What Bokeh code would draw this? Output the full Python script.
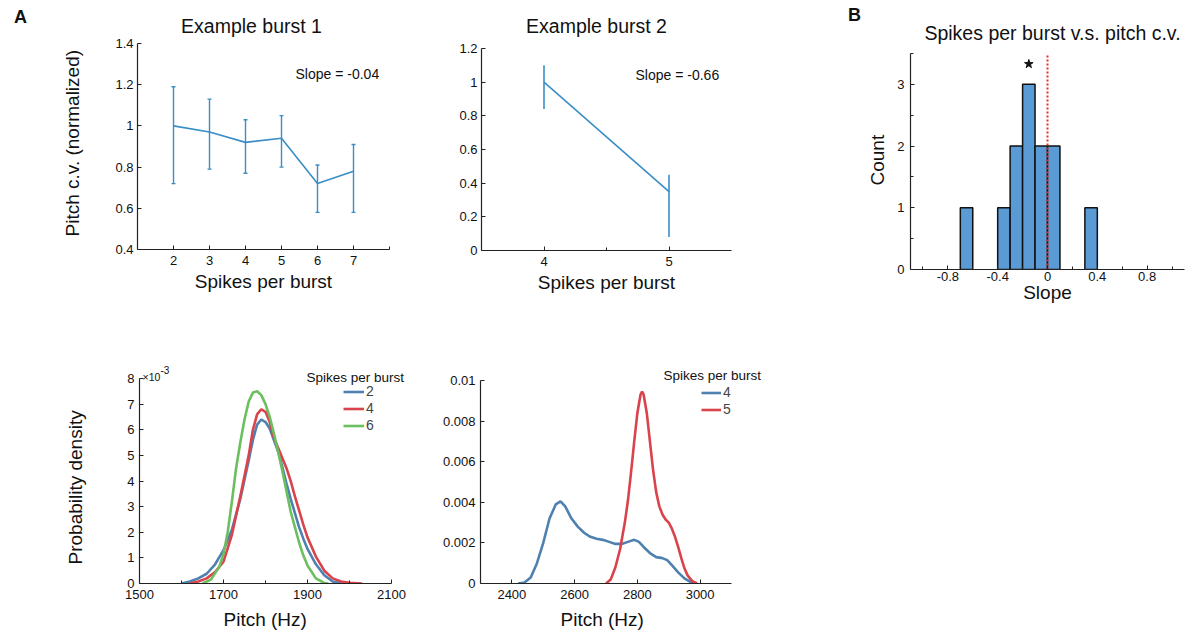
from bokeh.plotting import figure
from bokeh.layouts import row, column
from bokeh.models import (Range1d, FixedTicker, Label, Legend, LegendItem, Whisker,
                          ColumnDataSource, TeeHead, Title)
from bokeh.embed import file_html
from bokeh.resources import INLINE

FONT = "Liberation Sans"

# ---------------- data ----------------
# Panel A, example burst 1
b1_spikes = [2, 3, 4, 5, 6, 7]
b1_mean = [1.0, 0.97, 0.92, 0.94, 0.72, 0.78]
b1_upper = [1.19, 1.13, 1.03, 1.05, 0.81, 0.91]
b1_lower = [0.72, 0.79, 0.77, 0.80, 0.58, 0.58]
b1_slope = "Slope = -0.04"

# Panel A, example burst 2
b2_spikes = [4, 5]
b2_mean = [1.0, 0.35]
b2_upper = [1.10, 0.45]
b2_lower = [0.84, 0.08]
b2_slope = "Slope = -0.66"

# Panel B, histogram of slopes
hist_left = [-0.7, -0.4, -0.3, -0.2, -0.1, 0.0, 0.3]
hist_count = [1, 1, 2, 3, 2, 2, 1]
bin_width = 0.1
zero_slope = 0.0
star_x, star_y = -0.15, 3.33

# Bottom-left densities (x1e-3)
d1_pitch_2 = [1600, 1620, 1640, 1660, 1680, 1700, 1720, 1740, 1760, 1770, 1780, 1790, 1800,
              1810, 1820, 1830, 1840, 1850, 1860, 1870, 1880, 1890, 1900, 1920, 1940, 1960, 1980]
d1_dens_2 = [0.0, 0.08, 0.2, 0.38, 0.75, 1.3, 2.1, 3.3, 4.8, 5.6, 6.2, 6.4, 6.3,
             6.05, 5.6, 5.15, 4.55, 3.9, 3.3, 2.75, 2.2, 1.75, 1.35, 0.75, 0.32, 0.08, 0.0]
d1_pitch_4 = [1620, 1640, 1660, 1680, 1700, 1720, 1740, 1750, 1760, 1770, 1780, 1790, 1800, 1810,
              1820, 1830, 1840, 1850, 1860, 1870, 1880, 1890, 1900, 1920, 1940, 1960, 1980, 2000, 2030]
d1_dens_4 = [0.0, 0.08, 0.2, 0.45, 0.85, 1.9, 3.4, 4.2, 5.0, 6.0, 6.6, 6.8, 6.7, 6.3,
             5.7, 5.3, 4.9, 4.5, 4.0, 3.4, 2.85, 2.3, 1.8, 1.05, 0.5, 0.2, 0.08, 0.03, 0.0]
d1_pitch_6 = [1650, 1670, 1690, 1700, 1710, 1720, 1730, 1740, 1750, 1760, 1770, 1780, 1790, 1800,
              1810, 1820, 1830, 1840, 1850, 1860, 1870, 1880, 1890, 1900, 1920, 1940, 1950]
d1_dens_6 = [0.0, 0.15, 0.65, 1.15, 2.0, 3.2, 4.5, 5.5, 6.4, 7.1, 7.45, 7.5, 7.35, 7.0,
             6.5, 5.85, 5.15, 4.4, 3.6, 2.8, 2.2, 1.6, 1.1, 0.7, 0.2, 0.02, 0.0]

# Bottom-middle densities
d2_pitch_4 = [2420, 2440, 2460, 2480, 2500, 2520, 2540, 2555, 2570, 2590, 2610, 2630, 2650, 2670,
              2690, 2710, 2730, 2750, 2770, 2790, 2805, 2820, 2840, 2860, 2880, 2895, 2910, 2930,
              2950, 2970, 2990]
d2_dens_4 = [0.0, 0.00005, 0.0003, 0.001, 0.002, 0.0032, 0.0039, 0.00405, 0.0038, 0.0032, 0.0028,
             0.0025, 0.0023, 0.0022, 0.00215, 0.00205, 0.00195, 0.00195, 0.00205, 0.00215, 0.00205,
             0.0018, 0.0015, 0.0013, 0.00125, 0.00115, 0.0009, 0.00055, 0.00025, 0.00007, 0.0]
d2_pitch_5 = [2700, 2715, 2730, 2745, 2760, 2770, 2780, 2790, 2800, 2810, 2815, 2820, 2830, 2840,
              2850, 2860, 2870, 2880, 2890, 2900, 2910, 2920, 2930, 2940, 2950, 2960, 2975, 2990]
d2_dens_5 = [0.0, 0.0002, 0.0008, 0.0017, 0.003, 0.0041, 0.0055, 0.007, 0.0084, 0.0093, 0.00945,
             0.0093, 0.0084, 0.007, 0.0056, 0.0045, 0.0038, 0.0034, 0.00315, 0.003, 0.0027, 0.0023,
             0.0018, 0.00125, 0.00075, 0.0004, 0.00012, 0.0]

# axis extents and tick labels
b1_xlim, b1_ylim = (1, 8), (0.4, 1.4)
b1_xticks = [2, 3, 4, 5, 6, 7]
b1_yticks = [0.4, 0.6, 0.8, 1.0, 1.2, 1.4]
b1_ylabels = ["0.4", "0.6", "0.8", "1", "1.2", "1.4"]
b2_xlim, b2_ylim = (3.5, 5.5), (0, 1.2)
b2_xticks = [4, 5]
b2_yticks = [0, 0.2, 0.4, 0.6, 0.8, 1.0, 1.2]
b2_ylabels = ["0", "0.2", "0.4", "0.6", "0.8", "1", "1.2"]
h_xlim, h_ylim = (-1.1, 1.1), (0, 3.5)
h_xticks = [-0.8, -0.4, 0, 0.4, 0.8]
h_xlabels = ["-0.8", "-0.4", "0", "0.4", "0.8"]
h_yticks = [0, 1, 2, 3]
d1_xlim, d1_ylim = (1500, 2100), (0, 8)
d1_xticks = [1500, 1700, 1900, 2100]
d1_yticks = [0, 1, 2, 3, 4, 5, 6, 7, 8]
d2_xlim, d2_ylim = (2300, 3100), (0, 0.01)
d2_xticks = [2400, 2600, 2800, 3000]
d2_yticks = [0, 0.002, 0.004, 0.006, 0.008, 0.01]
d2_ylabels = ["0", "0.002", "0.004", "0.006", "0.008", "0.01"]

LINE_BLUE = "#3a8ec6"
BAR_BLUE = "#5b9bd5"
C_BLUE = "#4f81b0"
C_RED = "#d9434c"
C_GREEN = "#6cbf5e"
AX = "#222222"
TXT = "#111111"
LABEL_SIZE = "19px"
TICK_SIZE = "13px"


def lin_range(v0, p0, v1, p1, lo, hi):
    k = (v1 - v0) / (p1 - p0)
    return (v0 + (lo - p0) * k, v0 + (hi - p0) * k)


class Spec:
    """Pixel geometry of one figure on the page."""
    def __init__(self, ox, oy, left, fw, right, top, fh, bottom, xanch, yanch):
        self.ox, self.oy = ox, oy
        self.left, self.fw, self.right = left, fw, right
        self.top, self.fh, self.bottom = top, fh, bottom
        fl, ft = ox + left, oy + top
        self.xr = lin_range(*xanch, fl, fl + fw)
        self.yr = lin_range(*yanch, ft + fh, ft)

    def dx(self, px):
        fl = self.ox + self.left
        return self.xr[0] + (px - fl) / self.fw * (self.xr[1] - self.xr[0])

    def dy(self, py):
        ft = self.oy + self.top
        return self.yr[1] - (py - ft) / self.fh * (self.yr[1] - self.yr[0])


def make_fig(s, axes=True):
    kw = {} if axes else dict(x_axis_type=None, y_axis_type=None)
    p = figure(x_range=Range1d(*s.xr), y_range=Range1d(*s.yr),
               frame_width=s.fw, frame_height=s.fh,
               min_border_left=s.left, min_border_right=s.right,
               min_border_top=s.top, min_border_bottom=s.bottom,
               output_backend="svg", toolbar_location=None, tools="", **kw)
    p.outline_line_color = None
    p.grid.visible = False
    p.background_fill_color = "white"
    p.border_fill_color = "white"
    return p


def style_axis(ax, bounds, ticks, labels=None, minor=None, label=None, lstand=6, astand=6):
    ax.bounds = bounds
    ax.ticker = FixedTicker(ticks=ticks, minor_ticks=minor or [])
    if labels is None:
        labels = [str(t) for t in ticks]
    ax.major_label_overrides = {t: l for t, l in zip(ticks, labels)}
    ax.major_tick_in = 4
    ax.major_tick_out = 0
    ax.minor_tick_in = 3
    ax.minor_tick_out = 0
    ax.axis_line_color = AX
    ax.axis_line_width = 1.2
    ax.major_tick_line_color = AX
    ax.minor_tick_line_color = AX
    ax.major_label_text_font = FONT
    ax.major_label_text_font_size = TICK_SIZE
    ax.major_label_text_color = TXT
    ax.major_label_standoff = lstand
    if label:
        ax.axis_label = label
        ax.axis_label_text_font = FONT
        ax.axis_label_text_font_size = LABEL_SIZE
        ax.axis_label_text_font_style = "normal"
        ax.axis_label_text_color = TXT
        ax.axis_label_standoff = astand


def add_text(p, s, px, py, text, size="12px", bold=False, align="left"):
    p.add_layout(Label(x=s.dx(px), y=s.dy(py), text=text, text_font=FONT,
                       text_font_size=size, text_font_style="bold" if bold else "normal",
                       text_align=align, text_baseline="middle", text_color=TXT))


def below_label(p, s, text, left_px, standoff):
    # axis title placed under the x axis, starting at page pixel left_px
    p.add_layout(Title(text=text, align="left", offset=left_px - (s.ox + s.left),
                       vertical_align="bottom", standoff=standoff, text_font=FONT,
                       text_font_size=LABEL_SIZE, text_font_style="normal",
                       text_color=TXT), "below")


def left_label(p, s, text, bottom_px, standoff):
    # rotated axis title left of the y axis, its text starting at page pixel bottom_px
    p.add_layout(Title(text=text, align="left", offset=(s.oy + s.top + s.fh) - bottom_px,
                       vertical_align="top", standoff=standoff, text_font=FONT,
                       text_font_size=LABEL_SIZE, text_font_style="normal",
                       text_color=TXT), "left")


# ---------------- top row ----------------
sA = Spec(0, 0, 0, 28, 0, 0, 318, 0, (0, 0, 1, 28), (0, 318, 1, 0))
pA = make_fig(sA, axes=False)
add_text(pA, sA, 20, 16, "A", size="18px", bold=True, align="center")

s1 = Spec(28, 0, 109, 252, 31, 0, 249, 69,
          (b1_xlim[0], 137, b1_xlim[1], 389), (b1_ylim[0], 249, b1_ylim[1], 43))
p1 = make_fig(s1)
src1 = ColumnDataSource(dict(x=b1_spikes, m=b1_mean, u=b1_upper, l=b1_lower))
p1.line("x", "m", source=src1, line_color=LINE_BLUE, line_width=1.6)
p1.add_layout(Whisker(source=src1, base="x", upper="u", lower="l", dimension="height",
                      line_color=LINE_BLUE, line_width=1.4,
                      upper_head=TeeHead(size=4, line_color=LINE_BLUE, line_width=1.4),
                      lower_head=TeeHead(size=4, line_color=LINE_BLUE, line_width=1.4)))
style_axis(p1.xaxis[0], b1_xlim, b1_xticks, minor=[b1_xlim[1]], label="Spikes per burst",
           lstand=6, astand=3)
style_axis(p1.yaxis[0], b1_ylim, b1_yticks, b1_ylabels, lstand=4)
left_label(p1, s1, "Pitch c.v. (normalized)", 236, 55)
add_text(p1, s1, 251, 25, "Example burst 1", size="19.5px", align="center")
add_text(p1, s1, 295, 73, b1_slope, size="14px")

s2 = Spec(420, 0, 61, 250, 109, 0, 250, 68,
          (b2_xlim[0], 481, b2_xlim[1], 731), (b2_ylim[0], 250, b2_ylim[1], 48))
p2 = make_fig(s2)
src2 = ColumnDataSource(dict(x=b2_spikes, m=b2_mean, u=b2_upper, l=b2_lower))
p2.line("x", "m", source=src2, line_color=LINE_BLUE, line_width=1.6)
p2.add_layout(Whisker(source=src2, base="x", upper="u", lower="l", dimension="height",
                      line_color=LINE_BLUE, line_width=1.6, upper_head=None, lower_head=None))
style_axis(p2.xaxis[0], b2_xlim, b2_xticks, minor=[4.5], label="Spikes per burst",
           lstand=6, astand=3)
style_axis(p2.yaxis[0], b2_ylim, b2_yticks, b2_ylabels, lstand=4)
add_text(p2, s2, 596, 25, "Example burst 2", size="19.5px", align="center")
add_text(p2, s2, 635, 74, b2_slope, size="14px")

sB = Spec(840, 0, 0, 21, 0, 0, 318, 0, (0, 840, 1, 861), (0, 318, 1, 0))
pB = make_fig(sB, axes=False)
add_text(pB, sB, 854, 14, "B", size="18px", bold=True, align="center")

s3 = Spec(861, 0, 48, 274, 5, 0, 269, 49,
          (h_xlim[0], 909, h_xlim[1], 1183), (h_ylim[0], 269, h_ylim[1], 53))
p3 = make_fig(s3)
hist_right = [v + bin_width for v in hist_left]
p3.quad(left=hist_left, right=hist_right, top=hist_count, bottom=0,
        fill_color=BAR_BLUE, line_color="#111111", line_width=1.5)
p3.segment(x0=[zero_slope], y0=[h_ylim[0]], x1=[zero_slope], y1=[h_ylim[1]],
           line_color="#e0302a", line_width=2, line_dash="2 2")
p3.scatter([star_x], [star_y], marker="star", size=9, fill_color="#111111", line_color="#111111")
style_axis(p3.xaxis[0], h_xlim, h_xticks, h_xlabels, minor=[-1.0, -0.6, -0.2, 0.2, 0.6, 1.0],
           label="Slope", lstand=2, astand=-2)
style_axis(p3.yaxis[0], h_ylim, h_yticks, minor=[0.5, 1.5, 2.5, 3.5], lstand=6)
left_label(p3, s3, "Count", 185, 10)
add_text(p3, s3, 1051, 32, "Spikes per burst v.s. pitch c.v.", size="19.5px", align="center")

# ---------------- bottom row ----------------
sA2 = Spec(0, 318, 0, 28, 0, 0, 318, 0, (0, 0, 1, 28), (0, 636, 1, 318))
pA2 = make_fig(sA2, axes=False)

s4 = Spec(28, 318, 110, 292, 0, 0, 265, 53,
          (d1_xlim[0], 138, d1_xlim[1], 390), (d1_ylim[0], 583, d1_ylim[1], 378))
p4 = make_fig(s4)
r2 = p4.line(d1_pitch_2, d1_dens_2, line_color=C_BLUE, line_width=2.6)
r4 = p4.line(d1_pitch_4, d1_dens_4, line_color=C_RED, line_width=2.6)
r6 = p4.line(d1_pitch_6, d1_dens_6, line_color=C_GREEN, line_width=2.6)
style_axis(p4.xaxis[0], d1_xlim, d1_xticks, minor=[1600, 1800, 2000], lstand=6)
style_axis(p4.yaxis[0], d1_ylim, d1_yticks, lstand=5)
below_label(p4, s4, "Pitch (Hz)", 222, 11)
left_label(p4, s4, "Probability density", 564, 73)
add_text(p4, s4, 141, 376, "\u00d710", size="10.5px")
add_text(p4, s4, 159, 369, "-3", size="10px")
add_text(p4, s4, 305, 377, "Spikes per burst", size="13.5px")
leg4 = Legend(items=[LegendItem(label="2", renderers=[r2]),
                     LegendItem(label="4", renderers=[r4]),
                     LegendItem(label="6", renderers=[r6])],
              location=(204, 150), padding=0, margin=0, spacing=1,
              label_height=15, glyph_height=15, glyph_width=21, label_standoff=2,
              label_text_font=FONT, label_text_font_size="14px",
              background_fill_alpha=0, border_line_alpha=0)
p4.add_layout(leg4)

s5 = Spec(430, 318, 49, 311, 0, 0, 265, 53,
          (d2_xlim[0], 479, d2_xlim[1], 730), (d2_ylim[0], 583, d2_ylim[1], 380))
p5 = make_fig(s5)
q4 = p5.line(d2_pitch_4, d2_dens_4, line_color=C_BLUE, line_width=2.6)
q5 = p5.line(d2_pitch_5, d2_dens_5, line_color=C_RED, line_width=2.6)
style_axis(p5.xaxis[0], d2_xlim, d2_xticks, lstand=6)
style_axis(p5.yaxis[0], d2_ylim, d2_yticks, d2_ylabels, lstand=5)
below_label(p5, s5, "Pitch (Hz)", 559, 11)
add_text(p5, s5, 662, 375, "Spikes per burst", size="13.5px")
leg5 = Legend(items=[LegendItem(label="4", renderers=[q4]),
                     LegendItem(label="5", renderers=[q5])],
              location=(221, 166), padding=0, margin=0, spacing=1,
              label_height=15, glyph_height=15, glyph_width=20, label_standoff=2,
              label_text_font=FONT, label_text_font_size="14px",
              background_fill_alpha=0, border_line_alpha=0)
p5.add_layout(leg5)

layout = column(row(pA, p1, p2, pB, p3, spacing=0), row(pA2, p4, p5, spacing=0), spacing=0)
open("out.html", "w").write(file_html(layout, INLINE))
